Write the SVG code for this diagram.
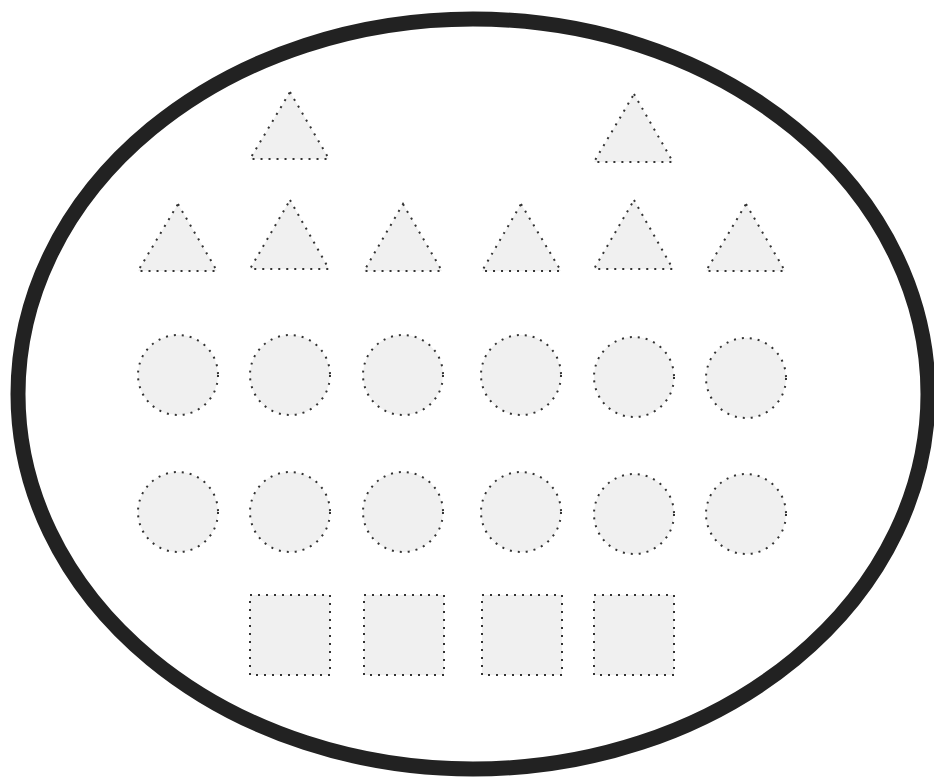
<svg xmlns="http://www.w3.org/2000/svg" width="934" height="777" viewBox="0 0 934 777">
<style>
.s{fill:#f0f0f0;stroke:#333;stroke-width:2;stroke-dasharray:2 6}
</style>
<rect width="934" height="777" fill="#fff"/>
<g id="boundary"><ellipse cx="473" cy="394" rx="455" ry="375" fill="none" stroke="#222" stroke-width="15"/></g>
<g id="t1"><polygon class="s" points="290,92 329,159 250,159"/></g>
<g id="t2"><polygon class="s" points="634,94 673,162 594,162"/></g>
<g id="t3"><polygon class="s" points="178,204 217,271 138,271"/></g>
<g id="t4"><polygon class="s" points="290,200 329,269 250,269"/></g>
<g id="t5"><polygon class="s" points="403,204 442,271 364,271"/></g>
<g id="t6"><polygon class="s" points="521,204 561,271 482,271"/></g>
<g id="t7"><polygon class="s" points="634,200 673,269 594,269"/></g>
<g id="t8"><polygon class="s" points="746,204 785,271 706,271"/></g>
<g id="c1"><circle class="s" cx="178" cy="375" r="40"/></g>
<g id="c2"><circle class="s" cx="290" cy="375" r="40"/></g>
<g id="c3"><circle class="s" cx="403" cy="375" r="40"/></g>
<g id="c4"><circle class="s" cx="521" cy="375" r="40"/></g>
<g id="c5"><circle class="s" cx="634" cy="377" r="40"/></g>
<g id="c6"><circle class="s" cx="746" cy="378" r="40"/></g>
<g id="c7"><circle class="s" cx="178" cy="512" r="40"/></g>
<g id="c8"><circle class="s" cx="290" cy="512" r="40"/></g>
<g id="c9"><circle class="s" cx="403" cy="512" r="40"/></g>
<g id="c10"><circle class="s" cx="521" cy="512" r="40"/></g>
<g id="c11"><circle class="s" cx="634" cy="514" r="40"/></g>
<g id="c12"><circle class="s" cx="746" cy="514" r="40"/></g>
<g id="q1"><rect class="s" x="250" y="595" width="80" height="80"/></g>
<g id="q2"><rect class="s" x="364" y="595" width="80" height="80"/></g>
<g id="q3"><rect class="s" x="482" y="595" width="80" height="80"/></g>
<g id="q4"><rect class="s" x="594" y="595" width="80" height="80"/></g>
<g id="connectors"></g>
</svg>
